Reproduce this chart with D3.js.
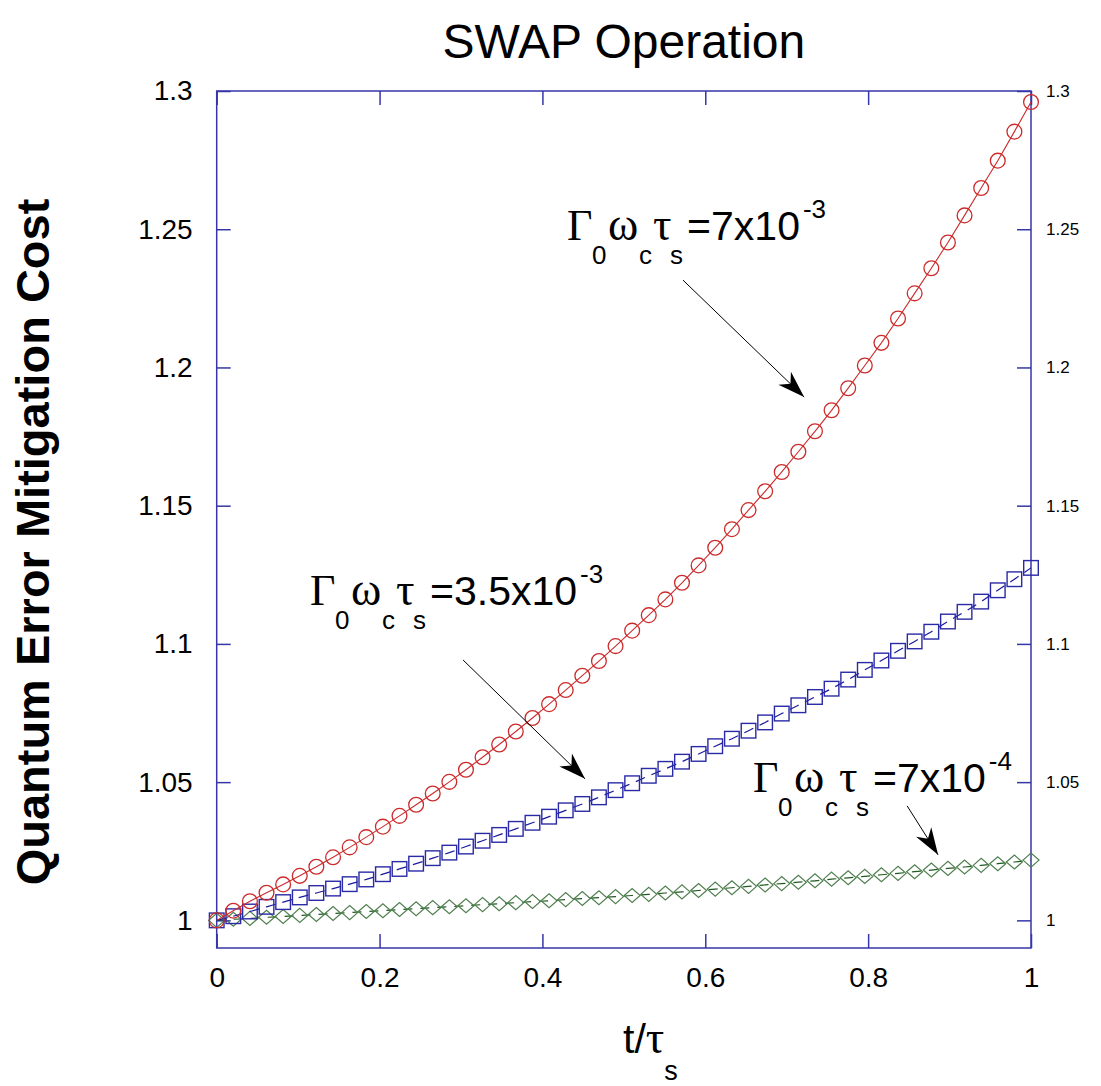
<!DOCTYPE html>
<html><head><meta charset="utf-8">
<script src="https://cdn.jsdelivr.net/npm/d3@7"></script>
<style>body{margin:0;background:#fff}</style>
</head><body>
<svg id="c" width="1101" height="1086"></svg>
<script>
// ---- data ----
const tValues = [0,0.0204,0.0408,0.0612,0.0816,0.1020,0.1224,0.1429,0.1633,0.1837,
  0.2041,0.2245,0.2449,0.2653,0.2857,0.3061,0.3265,0.3469,0.3673,0.3878,
  0.4082,0.4286,0.4490,0.4694,0.4898,0.5102,0.5306,0.5510,0.5714,0.5918,
  0.6122,0.6327,0.6531,0.6735,0.6939,0.7143,0.7347,0.7551,0.7755,0.7959,
  0.8163,0.8367,0.8571,0.8776,0.8980,0.9184,0.9388,0.9592,0.9796,1];
const cost7e3 = [1.0000,1.0035,1.0069,1.0100,1.0130,1.0161,1.0194,1.0228,1.0264,1.0301,
  1.0339,1.0378,1.0418,1.0459,1.0501,1.0545,1.0590,1.0636,1.0683,1.0732,
  1.0782,1.0833,1.0885,1.0938,1.0992,1.1048,1.1104,1.1161,1.1221,1.1284,
  1.1348,1.1415,1.1484,1.1552,1.1622,1.1695,1.1769,1.1845,1.1925,1.2007,
  1.2089,1.2177,1.2268,1.2359,1.2452,1.2550,1.2649,1.2748,1.2853,1.2960];
const cost35e4 = [1.0000,1.0015,1.0032,1.0049,1.0066,1.0083,1.0099,1.0115,1.0131,1.0148,
  1.0167,1.0186,1.0205,1.0225,1.0245,1.0267,1.0288,1.0309,1.0331,1.0353,
  1.0375,1.0398,1.0421,1.0445,1.0471,1.0496,1.0523,1.0548,1.0574,1.0602,
  1.0630,1.0657,1.0686,1.0716,1.0748,1.0778,1.0808,1.0838,1.0871,1.0906,
  1.0940,1.0975,1.1009,1.1044,1.1081,1.1116,1.1153,1.1194,1.1234,1.1275];
const cost7e4 = [1.0000,1.0004,1.0007,1.0011,1.0014,1.0018,1.0021,1.0025,1.0028,1.0032,
  1.0035,1.0039,1.0042,1.0046,1.0049,1.0053,1.0057,1.0060,1.0064,1.0068,
  1.0071,1.0075,1.0079,1.0082,1.0086,1.0090,1.0094,1.0099,1.0103,1.0108,
  1.0113,1.0118,1.0123,1.0128,1.0133,1.0138,1.0143,1.0149,1.0154,1.0159,
  1.0165,1.0170,1.0176,1.0182,1.0188,1.0193,1.0199,1.0205,1.0211,1.0218];
const xTicks = [0,0.2,0.4,0.6,0.8,1];
const xTickLabels = ["0","0.2","0.4","0.6","0.8","1"];
const yTicks = [1,1.05,1.1,1.15,1.2,1.25,1.3];
const yTickLabels = ["1","1.05","1.1","1.15","1.2","1.25","1.3"];
const seriesValues = ["7x10","3.5x10","7x10"];
const seriesExponents = ["-3","-3","-4"];
const chartTitle = "SWAP Operation";
const yAxisTitle = "Quantum Error Mitigation Cost";

// ---- layout / style (not data) ----
const L = 216.7, R = 1031, T = 91, B = 948;
const frameColor = "#3636a8";
const sans = "'Liberation Sans', Arial, sans-serif";
const serif = "'Liberation Serif', 'Times New Roman', serif";
// annotation anchors in data space
const annPos = [
  {lx:0.4303, ly:1.2461, a1:[0.5726,1.2316], a2:[0.7214,1.1893]},
  {lx:0.1146, ly:1.1141, a1:[0.3025,1.0942], a2:[0.4523,1.0512]},
  {lx:0.6586, ly:1.0463, a1:[0.8479,1.0414], a2:[0.8859,1.0237]}
];

const svg = d3.select("#c");
const x = d3.scaleLinear().domain([0,1]).range([L,R]);
const y = d3.scaleLinear().domain([0.99,1.3]).range([B,T]);

// defs: arrowhead
svg.append("defs").append("marker")
  .attr("id","ah").attr("markerUnits","userSpaceOnUse")
  .attr("viewBox","-28 -11 30 22").attr("refX",0).attr("refY",0)
  .attr("markerWidth",30).attr("markerHeight",22).attr("orient","auto")
  .append("path").attr("d","M0,0 L-27,-9 L-19,0 L-27,9 Z").attr("fill","#000");

// title
svg.append("text").attr("x",(L+R)/2).attr("y",58).attr("text-anchor","middle")
  .attr("font-family",sans).attr("font-size",48).attr("fill","#000").text(chartTitle);

// y axis title
svg.append("text").attr("transform","translate(49,542) rotate(-90)")
  .attr("text-anchor","middle").attr("font-family",sans).attr("font-weight","bold")
  .attr("font-size",47).attr("fill","#000").text(yAxisTitle);

// x axis title t/τ_s
const xt = svg.append("text").attr("x",623).attr("y",1053).attr("font-size",41).attr("fill","#000");
xt.append("tspan").attr("font-family",sans).text("t/");
xt.append("tspan").attr("font-family",serif).attr("font-size",46).text("τ");
xt.append("tspan").attr("font-family",sans).attr("font-size",27).attr("dy",27).text("s");

// axes
function styleAxis(g, fs){
  g.select(".domain").remove();
  g.selectAll(".tick line").attr("stroke",frameColor).attr("stroke-width",1.5);
  g.selectAll(".tick text").attr("font-family",sans).attr("font-size",fs).attr("fill","#000");
}
const xb = svg.append("g").attr("transform",`translate(0,${B})`)
  .call(d3.axisBottom(x).tickValues(xTicks).tickFormat((d,i)=>xTickLabels[i]).tickSize(-14).tickPadding(19));
styleAxis(xb,28);
const xtop = svg.append("g").attr("transform",`translate(0,${T})`)
  .call(d3.axisTop(x).tickValues(xTicks).tickFormat("").tickSize(-14));
styleAxis(xtop,0);
const yl = svg.append("g").attr("transform",`translate(${L},0)`)
  .call(d3.axisLeft(y).tickValues(yTicks).tickFormat((d,i)=>yTickLabels[i]).tickSize(-14).tickPadding(24));
styleAxis(yl,28);
const yr = svg.append("g").attr("transform",`translate(${R},0)`)
  .call(d3.axisRight(y).tickValues(yTicks).tickFormat((d,i)=>yTickLabels[i]).tickSize(-14).tickPadding(15));
styleAxis(yr,17);

// frame
svg.append("rect").attr("x",L).attr("y",T).attr("width",R-L).attr("height",B-T)
  .attr("fill","none").attr("stroke",frameColor).attr("stroke-width",1.5);

const line = d3.line().x(d=>x(d[0])).y(d=>y(d[1]));
const dG = tValues.map((t,i)=>[t,cost7e4[i]]);
const dB = tValues.map((t,i)=>[t,cost35e4[i]]);
const dR = tValues.map((t,i)=>[t,cost7e3[i]]);

// green series
svg.append("path").datum(dG).attr("d",line).attr("fill","none")
  .attr("stroke","#1f5a1f").attr("stroke-width",1.2).attr("stroke-dasharray","9,8");
svg.append("g").selectAll("path").data(dG).join("path")
  .attr("transform",d=>`translate(${x(d[0])},${y(d[1])})`)
  .attr("d","M-8,0 L0,-7 L8,0 L0,7 Z").attr("fill","none")
  .attr("stroke","#4f7f4f").attr("stroke-width",1.2);

// blue series
svg.append("path").datum(dB).attr("d",line).attr("fill","none")
  .attr("stroke","#1a1a9c").attr("stroke-width",1.2).attr("stroke-dasharray","10,7");
svg.append("g").selectAll("rect").data(dB).join("rect")
  .attr("x",d=>x(d[0])-7.3).attr("y",d=>y(d[1])-7.3).attr("width",14.6).attr("height",14.6)
  .attr("fill","none").attr("stroke","#2a2aa6").attr("stroke-width",1.4);

// red series
svg.append("path").datum(dR).attr("d",line).attr("fill","none")
  .attr("stroke","#cc2a2a").attr("stroke-width",1.1);
svg.append("g").selectAll("circle").data(dR).join("circle")
  .attr("cx",d=>x(d[0])).attr("cy",d=>y(d[1])).attr("r",7.4)
  .attr("fill","none").attr("stroke","#cc2a2a").attr("stroke-width",1.3);

// annotations
annPos.forEach((p,i)=>{
  const x0 = x(p.lx), yb = y(p.ly);
  const g = svg.append("g").attr("fill","#000");
  const sub = (txt,dx)=>g.append("text").attr("x",x0+dx).attr("y",yb+24)
    .attr("font-family",sans).attr("font-size",26).text(txt);
  g.append("text").attr("x",x0).attr("y",yb).attr("font-family",serif).attr("font-size",44).text("Γ");
  sub("0",25);
  g.append("text").attr("x",x0+41).attr("y",yb).attr("font-family",serif).attr("font-size",46).text("ω");
  sub("c",72);
  g.append("text").attr("x",x0+86).attr("y",yb).attr("font-family",serif).attr("font-size",46).text("τ");
  sub("s",103);
  const main = g.append("text").attr("x",x0+120).attr("y",yb).attr("font-family",sans).attr("font-size",41);
  main.append("tspan").text("=" + seriesValues[i]);
  main.append("tspan").attr("font-size",26).attr("dy",-22).attr("dx",3).text(seriesExponents[i]);
  svg.append("line").attr("x1",x(p.a1[0])).attr("y1",y(p.a1[1]))
    .attr("x2",x(p.a2[0])).attr("y2",y(p.a2[1]))
    .attr("stroke","#000").attr("stroke-width",1).attr("marker-end","url(#ah)");
});
</script>
</body></html>
